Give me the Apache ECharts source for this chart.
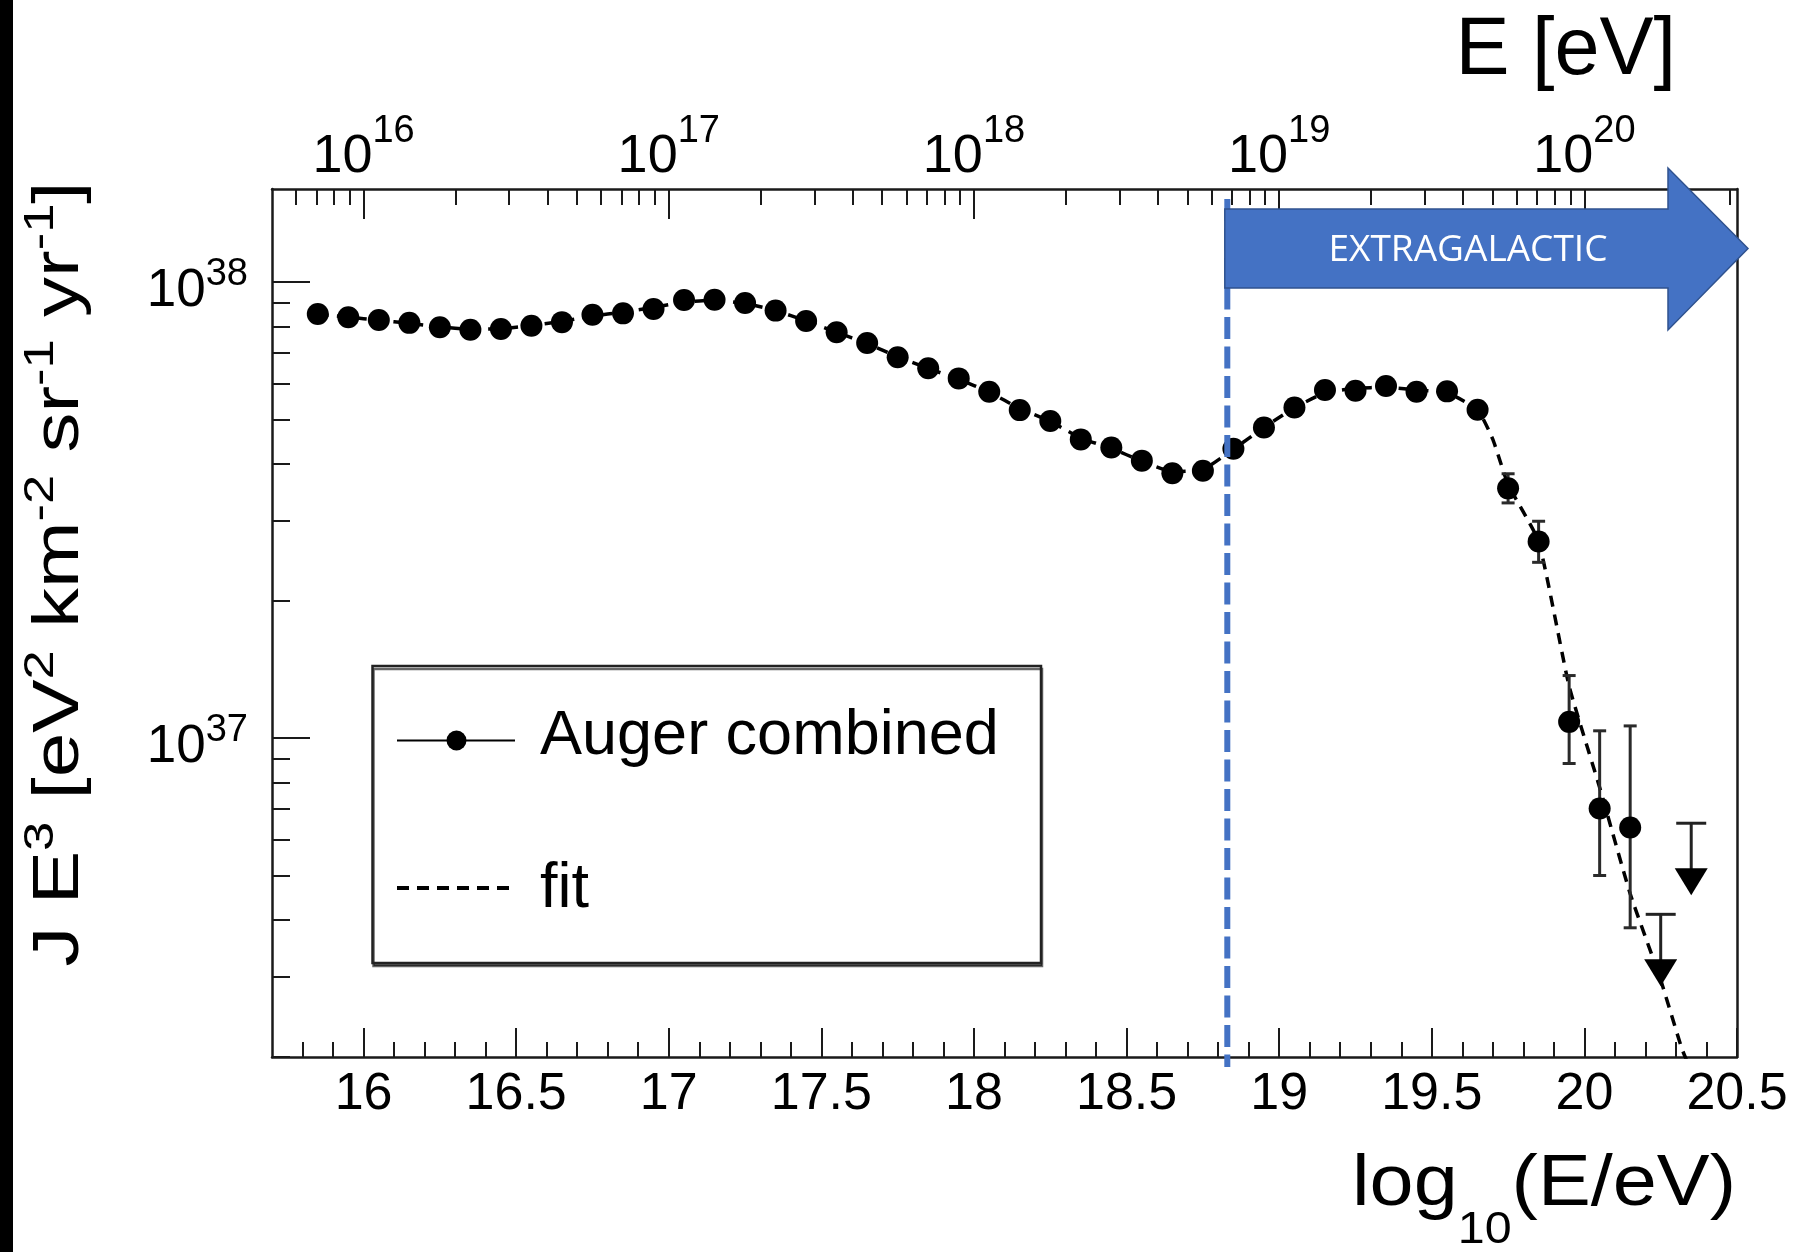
<!DOCTYPE html>
<html>
<head>
<meta charset="utf-8">
<script src="https://cdn.jsdelivr.net/npm/echarts@6/dist/echarts.min.js"></script>
<style>
html,body{margin:0;padding:0;background:#fff;}
#chart{width:1808px;height:1252px;}
</style>
</head>
<body>
<div id="chart"></div>
<script>
// ---------------- data ----------------
const logE = [15.85, 15.95, 16.05, 16.15, 16.25, 16.35, 16.45, 16.55, 16.65, 16.75,
              16.85, 16.95, 17.05, 17.15, 17.25, 17.35, 17.45, 17.55, 17.65, 17.75,
              17.85, 17.95, 18.05, 18.15, 18.25, 18.35, 18.45, 18.55, 18.65, 18.75,
              18.85, 18.95, 19.05, 19.15, 19.25, 19.35, 19.45, 19.55, 19.65, 19.75,
              19.85, 19.95, 20.05, 20.15];
const flux = [8.51e37, 8.37e37, 8.26e37, 8.14e37, 7.96e37, 7.86e37, 7.89e37, 8.02e37, 8.17e37, 8.48e37,
              8.54e37, 8.73e37, 9.14e37, 9.15e37, 9.00e37, 8.66e37, 8.22e37, 7.76e37, 7.35e37, 6.84e37,
              6.47e37, 6.15e37, 5.75e37, 5.24e37, 4.96e37, 4.52e37, 4.34e37, 4.06e37, 3.81e37, 3.86e37,
              4.31e37, 4.80e37, 5.31e37, 5.80e37, 5.78e37, 5.92e37, 5.75e37, 5.76e37, 5.25e37, 3.53e37,
              2.70e37, 1.086e37, 7.01e36, 6.37e36];
const errLogE = [19.75, 19.85, 19.95, 20.05, 20.15];
const errLow  = [3.28e37, 2.43e37, 8.80e36, 5.00e36, 3.84e36];
const errHigh = [3.80e37, 2.99e37, 1.372e37, 1.038e37, 1.064e37];
const ulLogE = [20.25, 20.35];
const ulFlux = [4.11e36, 6.51e36];
const fitLogE = [15.85, 15.95, 16.05, 16.15, 16.25, 16.35, 16.45, 16.55, 16.65, 16.75,
                 16.85, 16.95, 17.05, 17.15, 17.25, 17.35, 17.45, 17.55, 17.65, 17.75,
                 17.85, 17.95, 18.05, 18.15, 18.25, 18.35, 18.45, 18.55, 18.65, 18.75,
                 18.85, 18.95, 19.05, 19.15, 19.25, 19.35, 19.45, 19.55, 19.65, 19.70,
                 19.75, 19.85, 19.95, 20.05, 20.15, 20.25, 20.32, 20.36];
const fitFlux = [8.50e37, 8.38e37, 8.25e37, 8.12e37, 7.98e37, 7.88e37, 7.90e37, 8.03e37, 8.20e37, 8.42e37,
                 8.60e37, 8.80e37, 9.05e37, 9.12e37, 8.98e37, 8.66e37, 8.22e37, 7.76e37, 7.33e37, 6.86e37,
                 6.47e37, 6.12e37, 5.74e37, 5.28e37, 4.95e37, 4.55e37, 4.32e37, 4.05e37, 3.84e37, 3.88e37,
                 4.30e37, 4.80e37, 5.30e37, 5.72e37, 5.85e37, 5.88e37, 5.80e37, 5.72e37, 5.25e37, 4.52e37,
                 3.60e37, 2.70e37, 1.30e37, 7.80e36, 4.56e36, 2.95e36, 2.08e36, 1.80e36];
const bottomTickLabels = [16, 16.5, 17, 17.5, 18, 18.5, 19, 19.5, 20, 20.5];
const topExponents = [16, 17, 18, 19, 20];
const yExponents = [37, 38];
const extragalacticLogE = 18.83;
const legendNames = ['Auger combined', 'fit'];
const arrowLabel = 'EXTRAGALACTIC';

// ---------------- axis ranges ----------------
const xMin = 15.7, xMax = 20.5;
const yMin = 2e36, yMax = 1.6e38;
const lyMin = Math.log10(yMin), lyMax = Math.log10(yMax);

// minor tick positions
const bottomMinor = [];
for (let i = 158; i <= 204; i++) { if (i % 5 !== 0) bottomMinor.push(i / 10); }
const topMinor = [];
for (let n = 15; n <= 20; n++) for (let k = 2; k <= 9; k++) {
  const v = n + Math.log10(k); if (v > xMin && v < xMax) topMinor.push(v);
}
const yMinor = [];
for (let n = 36; n <= 38; n++) for (let k = 2; k <= 9; k++) {
  const v = n + Math.log10(k); if (v >= lyMin - 1e-9 && v <= lyMax) yMinor.push(v);
}

const FONT = 'Liberation Sans';
const AX = '#1a1a1a';
const chart = echarts.init(document.getElementById('chart'), null, {renderer: 'canvas'});

const hidden = {show: false};
const option = {
  backgroundColor: '#ffffff',
  animation: false,
  grid: {left: 272, right: 71, top: 189, bottom: 195, containLabel: false, outerBoundsMode: 'none'},
  xAxis: [
    { // bottom, major ticks + labels (data axis)
      type: 'value', position: 'bottom', min: xMin, max: xMax,
      axisLine: {show: true, onZero: false, lineStyle: {color: AX, width: 2.5}},
      axisTick: {show: true, inside: true, length: 29, customValues: bottomTickLabels, lineStyle: {color: AX, width: 2}},
      axisLabel: {show: true, customValues: bottomTickLabels, margin: 12, color: '#000', fontFamily: FONT, fontSize: 52,
                  formatter: v => String(v)},
      splitLine: hidden
    },
    { // bottom minor ticks
      type: 'value', position: 'bottom', min: xMin, max: xMax,
      axisLine: {show: false, onZero: false},
      axisTick: {show: true, inside: true, length: 15, customValues: bottomMinor, lineStyle: {color: AX, width: 2}},
      axisLabel: hidden, splitLine: hidden
    },
    { // top, log energy major ticks + labels
      type: 'value', position: 'top', min: xMin, max: xMax,
      axisLine: {show: true, onZero: false, lineStyle: {color: AX, width: 2.5}},
      axisTick: {show: true, inside: true, length: 30, customValues: topExponents, lineStyle: {color: AX, width: 2}},
      axisLabel: {show: true, customValues: topExponents, margin: -12, color: '#000', fontFamily: FONT,
                  formatter: v => '{m|10}{s|' + v + '}',
                  rich: {m: {fontSize: 54, fontFamily: FONT, color: '#000'},
                         s: {fontSize: 38, fontFamily: FONT, color: '#000', padding: [0, 0, 50, 0]}}},
      splitLine: hidden
    },
    { // top minor ticks
      type: 'value', position: 'top', min: xMin, max: xMax,
      axisLine: {show: false, onZero: false},
      axisTick: {show: true, inside: true, length: 16, customValues: topMinor, lineStyle: {color: AX, width: 2}},
      axisLabel: hidden, splitLine: hidden
    }
  ],
  yAxis: [
    { // data axis (log)
      type: 'log', logBase: 10, position: 'left', min: yMin, max: yMax,
      axisLine: {show: true, onZero: false, lineStyle: {color: AX, width: 2.5}},
      axisTick: hidden, axisLabel: hidden, splitLine: hidden, minorTick: hidden
    },
    { // major ticks and labels (log10 space)
      type: 'value', position: 'left', min: lyMin, max: lyMax,
      axisLine: {show: false, onZero: false},
      axisTick: {show: true, inside: true, length: 38, customValues: yExponents, lineStyle: {color: AX, width: 2}},
      axisLabel: {show: true, customValues: yExponents, margin: 24, padding: [18, 0, 0, 0], color: '#000', fontFamily: FONT,
                  formatter: v => '{m|10}{s|' + v + '}',
                  rich: {m: {fontSize: 53, fontFamily: FONT, color: '#000'},
                         s: {fontSize: 38, fontFamily: FONT, color: '#000', padding: [0, 0, 34, 0]}}},
      splitLine: hidden
    },
    { // minor ticks
      type: 'value', position: 'left', min: lyMin, max: lyMax,
      axisLine: {show: false, onZero: false},
      axisTick: {show: true, inside: true, length: 18, customValues: yMinor, lineStyle: {color: AX, width: 2}},
      axisLabel: hidden, splitLine: hidden
    },
    { // right frame
      type: 'value', position: 'right', min: lyMin, max: lyMax,
      axisLine: {show: true, onZero: false, lineStyle: {color: AX, width: 2.5}},
      axisTick: hidden, axisLabel: hidden, splitLine: hidden
    }
  ],
  series: [
    {
      name: legendNames[1], type: 'line', xAxisIndex: 0, yAxisIndex: 0, z: 2,
      data: fitLogE.map((x, i) => [x, fitFlux[i]]),
      showSymbol: false, symbol: 'none', smooth: 0.15, clip: true,
      lineStyle: {color: '#000', width: 3.5, type: [11, 8]}
    },
    {
      name: 'errors', type: 'custom', xAxisIndex: 0, yAxisIndex: 0, z: 3,
      data: errLogE.map((x, i) => [x, errLow[i], errHigh[i]]),
      encode: {x: 0, y: [1, 2]},
      renderItem: function (params, api) {
        const x = api.value(0);
        const hi = api.coord([x, api.value(2)]);
        const lo = api.coord([x, api.value(1)]);
        const c = 6.5;
        const st = {stroke: '#2a2a2a', lineWidth: 3};
        return {type: 'group', children: [
          {type: 'line', shape: {x1: hi[0], y1: hi[1], x2: lo[0], y2: lo[1]}, style: st},
          {type: 'line', shape: {x1: hi[0] - c, y1: hi[1], x2: hi[0] + c, y2: hi[1]}, style: st},
          {type: 'line', shape: {x1: lo[0] - c, y1: lo[1], x2: lo[0] + c, y2: lo[1]}, style: st}
        ]};
      }
    },
    {
      name: 'upper limits', type: 'custom', xAxisIndex: 0, yAxisIndex: 0, z: 3,
      data: ulLogE.map((x, i) => [x, ulFlux[i]]),
      encode: {x: 0, y: 1},
      renderItem: function (params, api) {
        const p = api.coord([api.value(0), api.value(1)]);
        const st = {stroke: '#222', lineWidth: 3};
        return {type: 'group', children: [
          {type: 'line', shape: {x1: p[0] - 15, y1: p[1], x2: p[0] + 15, y2: p[1]}, style: st},
          {type: 'line', shape: {x1: p[0], y1: p[1], x2: p[0], y2: p[1] + 46}, style: st},
          {type: 'polygon', shape: {points: [[p[0] - 16.5, p[1] + 45], [p[0] + 16.5, p[1] + 45], [p[0], p[1] + 72]]},
           style: {fill: '#000'}}
        ]};
      }
    },
    {
      name: legendNames[0], type: 'scatter', xAxisIndex: 0, yAxisIndex: 0, z: 4,
      data: logE.map((x, i) => [x, flux[i]]),
      symbol: 'circle', symbolSize: 22,
      itemStyle: {color: '#000', opacity: 1}
    }
  ]
};
chart.setOption(option);

// ---------------- annotations ----------------
const xLine = chart.convertToPixel({xAxisIndex: 0}, extragalacticLogE);
const blue = '#4472C4';
const graphic = [
  {type: 'rect', shape: {x: 0, y: 0, width: 13, height: 1252}, style: {fill: '#000'}, z: 100},
  // legend
  {type: 'rect', shape: {x: 372.5, y: 666, width: 668.5, height: 297},
   style: {fill: '#fff', stroke: '#222', lineWidth: 2.5, shadowColor: 'rgba(0,0,0,0.6)', shadowOffsetX: 1, shadowOffsetY: 3, shadowBlur: 0}, z: 50},
  {type: 'line', shape: {x1: 397, y1: 740.5, x2: 515, y2: 740.5}, style: {stroke: '#000', lineWidth: 2}, z: 51},
  {type: 'circle', shape: {cx: 456.5, cy: 740.5, r: 10}, style: {fill: '#000'}, z: 51},
  {type: 'text', x: 540, y: 737, style: {text: legendNames[0], font: '63px "Liberation Sans"', fill: '#000', align: 'left', verticalAlign: 'middle'}, z: 51},
  {type: 'line', shape: {x1: 397, y1: 888, x2: 515, y2: 888}, style: {stroke: '#000', lineWidth: 4, lineDash: [12, 8]}, z: 51},
  {type: 'text', x: 540, y: 890, style: {text: legendNames[1], font: '63px "Liberation Sans"', fill: '#000', align: 'left', verticalAlign: 'middle'}, z: 51},
  // vertical dashed boundary
  {type: 'line', shape: {x1: xLine, y1: 199, x2: xLine, y2: 1067},
   style: {stroke: blue, lineWidth: 6, lineDash: [22, 7.5]}, z: 60},
  // arrow
  {type: 'polygon', shape: {points: [[xLine - 2.5, 209], [1668, 209], [1668, 168], [1748, 248.5], [1668, 330], [1668, 288], [xLine - 2.5, 288]]},
   style: {fill: blue, stroke: '#2F528F', lineWidth: 1.5}, z: 70},
  {type: 'text', x: 1468, y: 250, style: {text: arrowLabel, font: '37px "Open Sans"', fill: '#fff', align: 'center', verticalAlign: 'middle'}, z: 71},
  // axis titles
  {type: 'text', x: 1676, y: 52, style: {text: 'E [eV]', font: '81px "Liberation Sans"', fill: '#000', align: 'right', verticalAlign: 'middle'}, z: 20},
  {type: 'text', x: 1736, y: 1185, scaleX: 1.1, originX: 0, originY: 0,
   style: {text: '{m|log}{s|10}{m|(E/eV)}', align: 'right', verticalAlign: 'middle', fill: '#000',
           rich: {m: {fontSize: 72, fontFamily: FONT, fill: '#000'}, s: {fontSize: 44, fontFamily: FONT, fill: '#000', padding: [92, 0, 0, 0]}}}, z: 20},
  {type: 'text', x: 60, y: 574, rotation: Math.PI / 2, scaleX: 1.25, originX: 0, originY: 0,
   style: {text: '{m|J E}{s|3}{m| [eV}{s|2}{m| km}{s|-2}{m| sr}{s|-1}{m| yr}{s|-1}{m|]}', align: 'center', verticalAlign: 'middle', fill: '#000',
           rich: {m: {fontSize: 64, fontFamily: FONT, fill: '#000'}, s: {fontSize: 42, fontFamily: FONT, fill: '#000', padding: [0, 0, 38, 0]}}}, z: 20}
];
chart.setOption({graphic: graphic});
</script>
</body>
</html>
